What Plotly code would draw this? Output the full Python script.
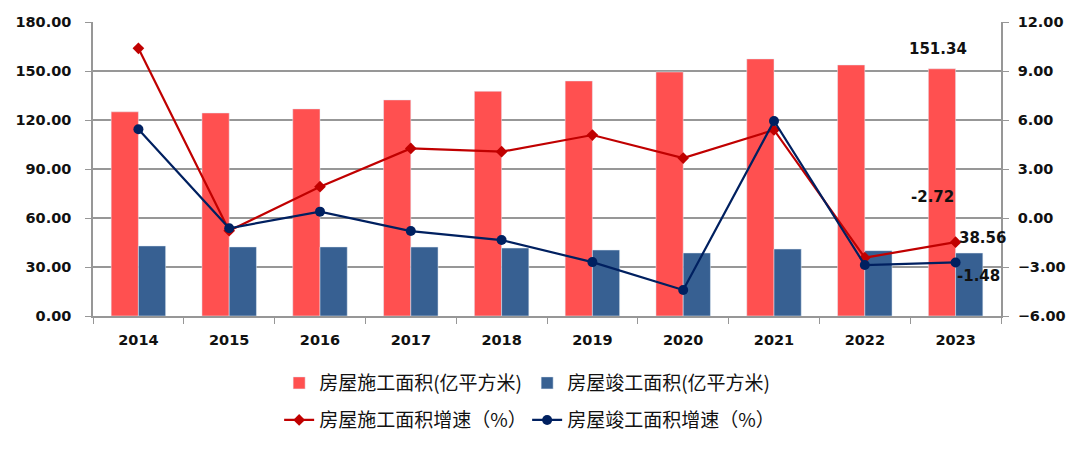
import plotly.graph_objects as go

years = ["2014", "2015", "2016", "2017", "2018", "2019", "2020", "2021", "2022", "2023"]
construction_area = [125.0, 124.3, 126.8, 132.3, 137.6, 143.9, 149.4, 157.4, 153.7, 151.34]
completed_area = [42.9, 42.3, 42.3, 42.2, 41.6, 40.4, 38.6, 41.0, 40.0, 38.56]
construction_growth = [10.39, -0.78, 1.92, 4.26, 4.06, 5.08, 3.67, 5.39, -2.43, -1.48]
completed_growth = [5.43, -0.63, 0.39, -0.80, -1.35, -2.70, -4.41, 5.94, -2.88, -2.72]

left_ticks = [0, 30, 60, 90, 120, 150, 180]
right_ticks = [-6, -3, 0, 3, 6, 9, 12]

names = ["房屋施工面积(亿平方米)", "房屋竣工面积(亿平方米)", "房屋施工面积增速（%）", "房屋竣工面积增速（%）"]

RED_BAR = "#FF5050"
BLUE_BAR = "#376092"
RED_LINE = "#C00000"
BLUE_LINE = "#002060"
GRID = "#979797"
TXT = "#111111"
NUM_FONT = "DejaVu Sans"
CJK_FONT = "Noto Sans CJK SC"

fig = go.Figure()
fig.add_trace(go.Bar(x=years, y=construction_area, name=names[0], marker_color=RED_BAR,
                     yaxis="y", legend="legend"))
fig.add_trace(go.Bar(x=years, y=completed_area, name=names[1], marker_color=BLUE_BAR,
                     yaxis="y", legend="legend"))
fig.add_trace(go.Scatter(x=years, y=construction_growth, name=names[2], mode="lines+markers",
                         line=dict(color=RED_LINE, width=2.2),
                         marker=dict(symbol="diamond", size=9, color=RED_LINE),
                         yaxis="y2", legend="legend2"))
fig.add_trace(go.Scatter(x=years, y=completed_growth, name=names[3], mode="lines+markers",
                         line=dict(color=BLUE_LINE, width=2.2),
                         marker=dict(symbol="circle", size=10, color=BLUE_LINE),
                         yaxis="y2", legend="legend2"))

lab_font = dict(family=NUM_FONT, size=15, color=TXT, weight="bold")
last = len(years) - 1  # category serial index of the last year
fig.add_annotation(x=last, y=construction_area[-1], yref="y", text=f"{construction_area[-1]:.2f}",
                   showarrow=False, font=lab_font, yshift=20, xshift=-18)
fig.add_annotation(x=last, y=completed_area[-1], yref="y", text=f"{completed_area[-1]:.2f}",
                   showarrow=False, font=lab_font, xshift=27, yshift=15)
# growth labels positioned as in the reference
fig.add_annotation(x=last, y=construction_growth[-1], yref="y2", text=f"{completed_growth[-1]:.2f}",
                   showarrow=False, font=lab_font, yshift=45, xshift=-23)
fig.add_annotation(x=last, y=completed_growth[-1], yref="y2", text=f"{construction_growth[-1]:.2f}",
                   showarrow=False, font=lab_font, yshift=-14, xshift=23)

tickfont = dict(family=NUM_FONT, size=14.5, color=TXT, weight="bold")
legfont = dict(family=CJK_FONT, size=19, color=TXT)
fig.update_layout(
    width=1080, height=449,
    # the page body adds an 8px offset, so margins are compensated
    margin=dict(l=85, r=87, t=14, b=141, autoexpand=False),
    plot_bgcolor="white", paper_bgcolor="white",
    barmode="group", bargap=0.4, bargroupgap=0,
    xaxis=dict(type="category", range=[-0.5, len(years) - 0.5], showgrid=False, showline=True,
               linecolor=GRID, linewidth=1.5, automargin=False,
               ticks="outside", tickson="boundaries", ticklen=6, tickcolor=GRID,
               tickfont=tickfont, tickangle=0, ticklabelstandoff=10, mirror=False),
    yaxis=dict(range=[0, 180], tickvals=left_ticks, tickformat=".2f", showgrid=True,
               gridcolor=GRID, gridwidth=1.5, showline=True, linecolor=GRID, linewidth=1.5,
               ticks="outside", ticklen=6, tickcolor=GRID, tickfont=tickfont, automargin=False,
               ticklabelstandoff=11, zeroline=False),
    yaxis2=dict(range=[-6, 12], tickvals=right_ticks, tickformat=".2f", overlaying="y",
                side="right", showgrid=False, showline=True, linecolor=GRID, linewidth=1.5,
                ticks="outside", ticklen=6, tickcolor=GRID, tickfont=tickfont, automargin=False,
                ticklabelstandoff=6, zeroline=False),
    legend=dict(orientation="h", x=0.205, xanchor="left", y=-0.228, yanchor="middle",
                font=legfont, entrywidth=203, entrywidthmode="pixels", itemwidth=30,
                bgcolor="rgba(0,0,0,0)"),
    legend2=dict(orientation="h", x=0.205, xanchor="left", y=-0.354, yanchor="middle",
                 font=legfont, entrywidth=203, entrywidthmode="pixels", itemwidth=30,
                 bgcolor="rgba(0,0,0,0)"),
    showlegend=True,
)

fig.write_html("out.html")
